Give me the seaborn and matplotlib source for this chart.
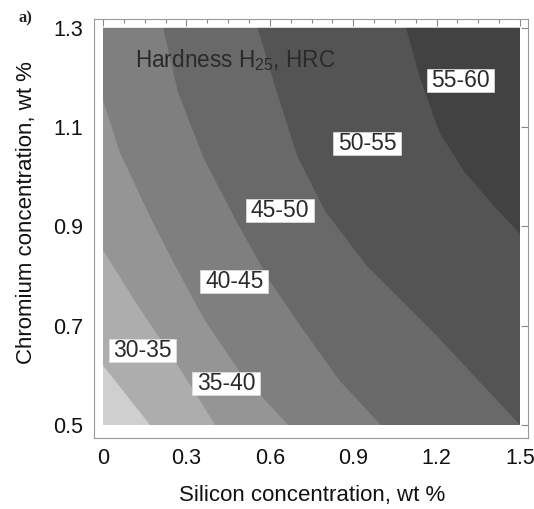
import numpy as np
import matplotlib
matplotlib.use('Agg')
import matplotlib.pyplot as plt
import seaborn as sns
from matplotlib.path import Path
from matplotlib.ticker import MultipleLocator

# data range of the map
si_min, si_max = 0.0, 1.5
cr_min, cr_max = 0.5, 1.3

x_ticks = [0, 0.3, 0.6, 0.9, 1.2, 1.5]
x_tick_labels = ['0', '0.3', '0.6', '0.9', '1.2', '1.5']
y_ticks = [0.5, 0.7, 0.9, 1.1, 1.3]
y_tick_labels = ['0.5', '0.7', '0.9', '1.1', '1.3']

# iso-hardness boundaries (Si wt%, Cr wt%), upper-left -> lower-right
b30_si = [0.0, 0.085, 0.169]
b30_cr = [0.62, 0.56, 0.5]
b35_si = [0.0, 0.12, 0.24, 0.32, 0.403]
b35_cr = [0.852, 0.745, 0.645, 0.575, 0.5]
b40_si = [0.0, 0.06, 0.175, 0.27, 0.367, 0.5, 0.666]
b40_cr = [1.155, 1.05, 0.913, 0.81, 0.71, 0.6, 0.5]
b45_si = [0.216, 0.27, 0.36, 0.48, 0.60, 0.71, 0.85, 1.0]
b45_cr = [1.3, 1.17, 1.04, 0.91, 0.79, 0.70, 0.59, 0.5]
b50_si = [0.556, 0.62, 0.70, 0.80, 0.95, 1.2, 1.5]
b50_cr = [1.3, 1.18, 1.04, 0.93, 0.82, 0.68, 0.5]
b55_si = [1.09, 1.14, 1.21, 1.30, 1.40, 1.5]
b55_cr = [1.3, 1.2, 1.09, 1.01, 0.945, 0.885]

boundaries = [(b30_si, b30_cr), (b35_si, b35_cr), (b40_si, b40_cr),
              (b45_si, b45_cr), (b50_si, b50_cr), (b55_si, b55_cr)]

# grey shades, from <30 up to 55-60
band_colors = ['#cfcfcf', '#adadad', '#959595', '#7f7f7f', '#696969', '#545454', '#424242']

band_labels = ['30-35', '35-40', '40-45', '45-50', '50-55', '55-60']
label_si = [0.142, 0.442, 0.472, 0.637, 0.951, 1.286]
label_cr = [0.651, 0.584, 0.790, 0.933, 1.0675, 1.195]

sns.set_style('white')
plt.rcParams['font.family'] = ['Liberation Sans', 'DejaVu Sans']

fig = plt.figure(figsize=(5.34, 5.09), dpi=100)
ax = fig.add_axes([94 / 534, 1 - 438 / 509, 434 / 534, 419 / 509])

# base band and then each band above its lower boundary
ax.fill_between([si_min, si_max], cr_min, cr_max, color=band_colors[0], lw=0)
for (bsi, bcr), col in zip(boundaries, band_colors[1:]):
    xs, ys = list(bsi), list(bcr)
    if ys[-1] == cr_min:
        xs.append(si_max); ys.append(cr_min)
    xs.append(si_max); ys.append(cr_max)
    if xs[0] == si_min:
        xs.append(si_min); ys.append(cr_max)
    ax.fill(xs, ys, color=col, lw=0)


def wide_box(x0, y0, width, height, mutation_size):
    px = 0.2 * mutation_size
    py = 0.0 * mutation_size
    x0, y0 = x0 - px, y0 - py
    w, h = width + 2 * px, height + 2 * py
    return Path([(x0, y0), (x0 + w, y0), (x0 + w, y0 + h), (x0, y0 + h), (x0, y0)], closed=True)


for txt, x, y in zip(band_labels, label_si, label_cr):
    ax.text(x, y, txt, ha='center', va='center', fontsize=16.5, color='#2a2a2a',
            bbox=dict(boxstyle=wide_box, fc='white', ec='#e0e0e0', lw=0.5))

ax.text(0.115, 1.222, r'Hardness H$_\mathregular{25}$, HRC', fontsize=16.3,
        color='#2a2a2a', va='baseline')

ax.set_xlim(-0.0324, 1.5288)
ax.set_ylim(0.4738, 1.318)
ax.set_xticks(x_ticks, labels=x_tick_labels)
ax.set_yticks(y_ticks, labels=y_tick_labels)
ax.xaxis.set_minor_locator(MultipleLocator(0.075))
ax.tick_params(which='both', direction='in', top=True, right=True, color='#888888',
               width=0.8, labelsize=15.5, labelcolor='#111111')
ax.tick_params(which='major', length=5)
ax.tick_params(which='minor', length=3)
ax.tick_params(axis='x', pad=7)
ax.tick_params(axis='y', pad=8)
for s in ax.spines.values():
    s.set_color('#999999')
    s.set_linewidth(0.8)

ax.set_xlabel('Silicon concentration, wt %', fontsize=16, color='#111111')
ax.set_ylabel('Chromium concentration, wt %', fontsize=16, color='#111111')
ax.xaxis.set_label_coords(0.502, -0.112)
ax.yaxis.set_label_coords(-0.132, 0.539)

fig.text(25 / 534, 1 - 18 / 509, 'a)', fontsize=12, fontweight='bold',
         family='Liberation Serif', ha='center', va='center')

fig.savefig('out.png', dpi=100)
